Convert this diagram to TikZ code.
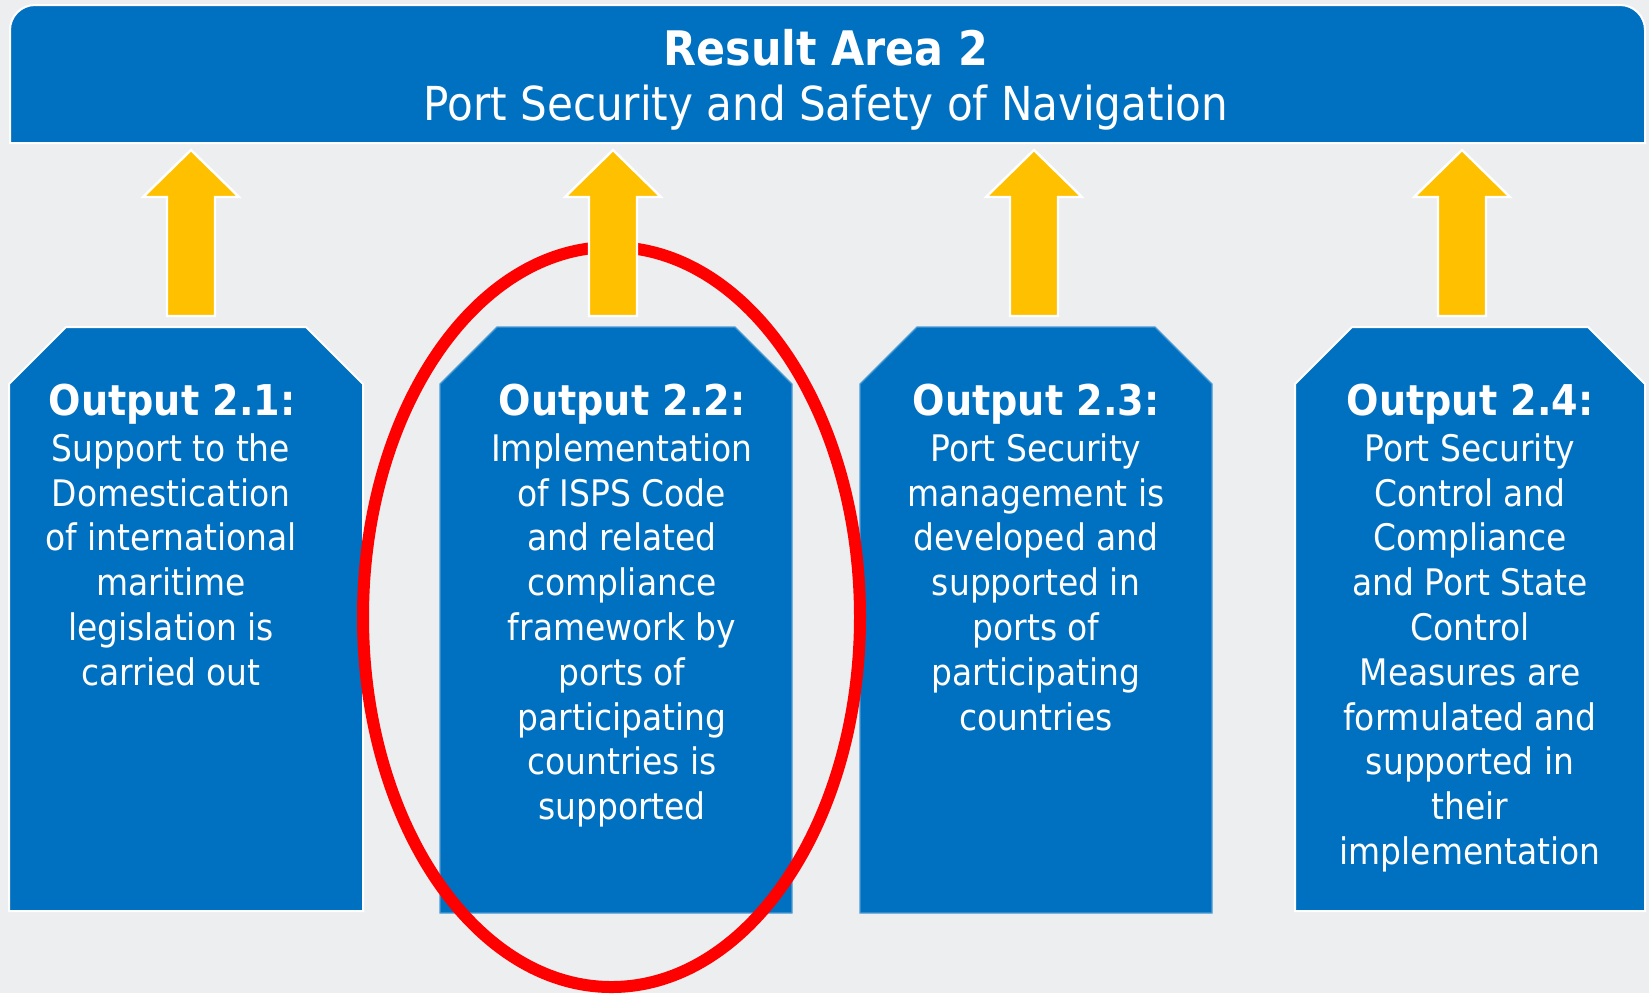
\documentclass[tikz,border=0pt]{standalone}
\usepackage{fontspec}
\setmainfont{DejaVu Sans Condensed}
\definecolor{bg}{HTML}{EDEEF0}
\definecolor{pblue}{HTML}{0070C0}
\definecolor{pyellow}{HTML}{FFC000}
\definecolor{pred}{HTML}{FF0000}
\begin{document}
\begin{tikzpicture}[x=0.5pt,y=-0.5pt,
  bluefill/.style={fill=pblue, draw=white, line width=1pt, line join=miter},
  upfill/.style={fill=pyellow, draw=white, line width=1.2pt, line join=miter},
  ring/.style={draw=pred, line width=6pt},
  headtext/.style={text=white, inner sep=0pt, anchor=base, font=\fontsize{21.2}{22.4}\selectfont\bfseries},
  bodytext/.style={text=white, align=center, inner sep=0pt, anchor=north, font=\fontsize{18.3}{22.4}\selectfont},
  titletext/.style={text=white, inner sep=0pt, anchor=base, font=\fontsize{23.4}{28}\selectfont}
]
\fill[bg] (0,0) rectangle (1649,993);
\useasboundingbox (0,0) rectangle (1649,993);

% banner
\path[bluefill] (10,143) -- (10,30) arc[start angle=180, end angle=270, radius=25]
  -- (1620,5) arc[start angle=270, end angle=360, radius=25] -- (1645,143) -- cycle;
\node[titletext, font=\fontsize{23.8}{28}\selectfont\bfseries] (title) at (826,65) {Result Area 2};
\node[titletext] (subtitle) at (826,120) {Port Security and Safety of Navigation};

% boxes
\path[bluefill] (9,911) -- (9,384) -- (66,327) -- (306,327) -- (363,384) -- (363,911) -- cycle;
\path[bluefill, draw=white!30!pblue, line width=0.6pt] (440,913) -- (440,384) -- (497,327) -- (735,327) -- (792,384) -- (792,913) -- cycle;
\path[bluefill, draw=white!30!pblue, line width=0.6pt] (860,913) -- (860,384) -- (917,327) -- (1155,327) -- (1212,384) -- (1212,913) -- cycle;
\path[bluefill] (1295,911) -- (1295,384) -- (1352,327) -- (1588,327) -- (1645,384) -- (1645,911) -- cycle;

% texts
\node[headtext] (h1) at (172,415) {Output 2.1:};
\node[bodytext] (t1) at (171,433) {Support to the\\Domestication\\of international\\maritime\\legislation is\\carried out};
\node[headtext] (h2) at (622,415) {Output 2.2:};
\node[bodytext] (t2) at (622,433) {Implementation\\of ISPS Code\\and related\\compliance\\framework by\\ports of\\participating\\countries is\\supported};
\node[headtext] (h3) at (1036,415) {Output 2.3:};
\node[bodytext] (t3) at (1036,433) {Port Security\\management is\\developed and\\supported in\\ports of\\participating\\countries};
\node[headtext] (h4) at (1470,415) {Output 2.4:};
\node[bodytext] (t4) at (1470,433) {Port Security\\Control and\\Compliance\\and Port State\\Control\\Measures are\\formulated and\\supported in\\their\\implementation};

% red ellipse
\draw[ring] (611.5,617) ellipse[x radius=248.5, y radius=370];

% yellow arrows
\foreach \cx in {191,613,1034,1462}{
  \path[upfill] (\cx,150) -- (\cx+48,197) -- (\cx+24,197) -- (\cx+24,316)
    -- (\cx-24,316) -- (\cx-24,197) -- (\cx-48,197) -- cycle;
}
\end{tikzpicture}
\end{document}
